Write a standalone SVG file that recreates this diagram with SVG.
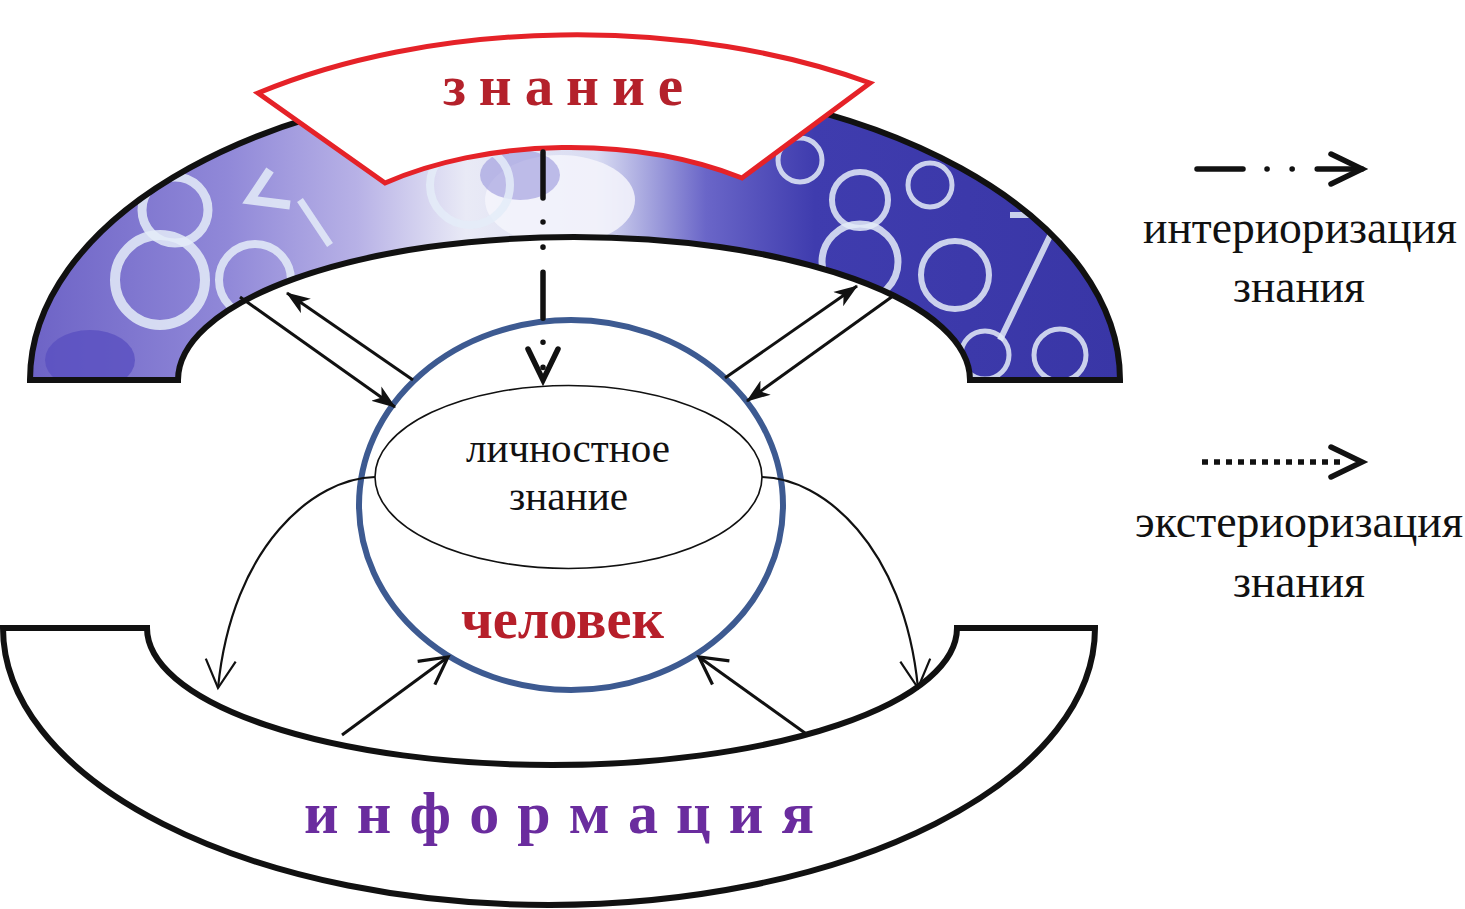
<svg xmlns="http://www.w3.org/2000/svg" width="1465" height="909" viewBox="0 0 1465 909">
<style>
.band{stroke:#111;stroke-width:6;stroke-linejoin:miter}
.lbl{font-family:"Liberation Serif","Times New Roman",serif;fill:#111}
.big{font-family:"Liberation Serif","Times New Roman",serif;font-weight:bold}
.conn{fill:none;stroke:#111;stroke-width:3}
.thin{fill:none;stroke:#111;stroke-width:2.2}
.ring{fill:none;stroke:#e4ecf8;stroke-opacity:0.85}
</style>
<defs>
<linearGradient id="tex" x1="30" y1="0" x2="1120" y2="0" gradientUnits="userSpaceOnUse">
<stop offset="0" stop-color="#6d63c6"/>
<stop offset="0.18" stop-color="#9088d8"/>
<stop offset="0.3" stop-color="#b7b1e6"/>
<stop offset="0.4" stop-color="#e9eaf6"/>
<stop offset="0.52" stop-color="#d9dcf2"/>
<stop offset="0.62" stop-color="#6a66c8"/>
<stop offset="0.72" stop-color="#3f3cae"/>
<stop offset="1" stop-color="#3936a6"/>
</linearGradient>
<clipPath id="topclip">
<path d="M30,380 A545,300 0 0 1 1120,380 L970,380 A396,143 0 0 0 178,380 Z"/>
</clipPath>
<marker id="barb" viewBox="0 0 22 16" markerUnits="userSpaceOnUse" markerWidth="24" markerHeight="18" refX="21" refY="8" orient="auto">
<path d="M0,0 L22,8 L0,16 L6,8 Z" fill="#111"/>
</marker>
<marker id="vthin" viewBox="-2 -2 32 34" markerUnits="userSpaceOnUse" markerWidth="32" markerHeight="34" refX="28" refY="15" orient="auto" overflow="visible">
<path d="M0,0 L28,15 L0,30" fill="none" stroke="#111" stroke-width="2.2"/>
</marker>
<marker id="vthick" viewBox="-2 -2 32 34" markerUnits="userSpaceOnUse" markerWidth="32" markerHeight="34" refX="27" refY="14.5" orient="auto" overflow="visible">
<path d="M0,0 L27,14.5 L0,29" fill="none" stroke="#111" stroke-width="3.2"/>
</marker>
<marker id="chev" viewBox="-4 -4 40 40" markerUnits="userSpaceOnUse" markerWidth="40" markerHeight="40" refX="31" refY="15" orient="auto" overflow="visible">
<path d="M0,0 L31,15 L0,30" fill="none" stroke="#111" stroke-width="5.5" stroke-linecap="round" stroke-linejoin="miter"/>
</marker>
<marker id="chevout" viewBox="-4 -4 40 40" markerUnits="userSpaceOnUse" markerWidth="40" markerHeight="40" refX="13" refY="15" orient="auto" overflow="visible">
<path d="M0,0 L31,15 L0,30" fill="none" stroke="#111" stroke-width="5.5" stroke-linecap="round" stroke-linejoin="miter"/>
</marker>
</defs>

<rect width="1465" height="909" fill="#fff"/>

<g id="knowledge-field">
<g clip-path="url(#topclip)">
<rect x="20" y="60" width="1110" height="330" fill="url(#tex)"/>
<ellipse cx="90" cy="360" rx="45" ry="30" fill="#5a50c0" opacity="0.8"/>
<ellipse cx="560" cy="200" rx="75" ry="45" fill="#f4f5fb" opacity="0.85"/>
<ellipse cx="520" cy="175" rx="40" ry="25" fill="#9a96dc" opacity="0.6"/>
<circle class="ring" cx="175" cy="210" r="33" stroke-width="9"/>
<circle class="ring" cx="160" cy="280" r="45" stroke-width="10"/>
<circle class="ring" cx="255" cy="280" r="36" stroke-width="8"/>
<path class="ring" d="M270,170 L250,200 L290,205" stroke-width="9"/>
<path class="ring" d="M300,200 L330,245" stroke-width="7"/>
<circle class="ring" cx="470" cy="185" r="40" stroke-width="8"/>
<circle class="ring" cx="860" cy="200" r="28" stroke-width="6"/>
<circle class="ring" cx="860" cy="262" r="38" stroke-width="7"/>
<circle class="ring" cx="800" cy="160" r="22" stroke-width="5"/>
<circle class="ring" cx="955" cy="275" r="34" stroke-width="6"/>
<path class="ring" d="M1010,215 L1060,215 L1000,340" stroke-width="6"/>
<circle class="ring" cx="985" cy="355" r="24" stroke-width="5"/>
<circle class="ring" cx="1060" cy="355" r="26" stroke-width="5"/>
<circle class="ring" cx="930" cy="185" r="22" stroke-width="5"/>
</g>
<path class="band" fill="none" d="M30,380 A545,300 0 0 1 1120,380 L970,380 A396,143 0 0 0 178,380 Z"/>
</g>

<g id="knowledge">
<path d="M258,93 A514,270 0 0 1 870,83 L742,178 A294,160 0 0 0 385,183 Z" fill="#fff" stroke="#e52228" stroke-width="5" stroke-linejoin="miter"/>
<text class="big" x="443" y="105" font-size="57" fill="#b4212b" textLength="240" lengthAdjust="spacing">з н а н и е</text>
</g>

<g id="information">
<path class="band" fill="#fff" d="M3,628 L147,628 A405,137 0 0 0 957,628 L1095,628 A546,277 0 0 1 3,628 Z"/>
<text class="big" x="304" y="833" font-size="60" fill="#6a2c9e" textLength="510" lengthAdjust="spacing">и н ф о р м а ц и я</text>
</g>

<g id="person">
<ellipse cx="571" cy="505" rx="212" ry="185" fill="#fff" stroke="#3d5a91" stroke-width="6"/>
<text class="big" x="461" y="638" font-size="57" fill="#b61f2a" textLength="203" lengthAdjust="spacingAndGlyphs">человек</text>
</g>

<g id="personal-knowledge">
<ellipse cx="568.5" cy="477" rx="193.5" ry="91.5" fill="#fff" stroke="#111" stroke-width="1.6"/>
<text class="lbl" x="466" y="462" font-size="40" textLength="204" lengthAdjust="spacingAndGlyphs">личностное</text>
<text class="lbl" x="509" y="510" font-size="40" textLength="119" lengthAdjust="spacingAndGlyphs">знание</text>
</g>

<g id="connectors">
<path d="M543,152 L543,380" fill="none" stroke="#111" stroke-width="5.5" stroke-linecap="round" stroke-dasharray="46 24 0.1 25 0.1 25" marker-end="url(#chev)"/>
<path class="conn" d="M240,297 L395,407" marker-end="url(#barb)"/>
<path class="conn" d="M413,380 L287,293" marker-end="url(#barb)"/>
<path class="conn" d="M725,378 L857,286" marker-end="url(#barb)"/>
<path class="conn" d="M893,296 L747,401" marker-end="url(#barb)"/>
<path class="thin" d="M375,477 C315,478 232,545 218,688" marker-end="url(#vthin)"/>
<path class="thin" d="M762,477 C822,478 904,545 918,688" marker-end="url(#vthin)"/>
<path class="conn" d="M342,735 L448,657" marker-end="url(#vthick)"/>
<path class="conn" d="M805,733 L699,657" marker-end="url(#vthick)"/>
</g>

<g id="legend">
<path d="M1197,169 L1362,169" fill="none" stroke="#111" stroke-width="5.5" stroke-linecap="round" stroke-dasharray="46 24 0.1 25 0.1 25" marker-end="url(#chev)"/>
<text class="lbl" x="1143" y="243" font-size="46" textLength="314" lengthAdjust="spacingAndGlyphs">интериоризация</text>
<text class="lbl" x="1233" y="302" font-size="46" textLength="132" lengthAdjust="spacingAndGlyphs">знания</text>
<path d="M1202,462 L1344,462" fill="none" stroke="#111" stroke-width="5.5" stroke-dasharray="6 6" marker-end="url(#chevout)"/>
<text class="lbl" x="1135" y="537" font-size="46" textLength="328" lengthAdjust="spacingAndGlyphs">экстериоризация</text>
<text class="lbl" x="1233" y="597" font-size="46" textLength="132" lengthAdjust="spacingAndGlyphs">знания</text>
</g>
</svg>
